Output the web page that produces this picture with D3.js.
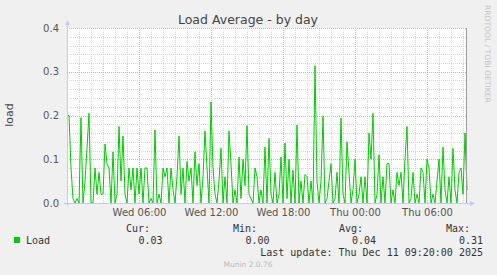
<!DOCTYPE html>
<html>
<head>
<meta charset="utf-8">
<script src="https://cdn.jsdelivr.net/npm/d3@7"></script>
<style>
  body { margin: 0; background: #f0f0f0; }
  svg { display: block; font-family: "DejaVu Sans", sans-serif; }
  .mono { font-family: "DejaVu Sans Mono", monospace; font-size: 10px; fill: #333; }
</style>
</head>
<body>
<div id="chart"></div>
<script>
// load average, one sample every 10 minutes from Wed 00:00 to Thu 09:20
const loadValues = [
  0.20, 0.08, 0.01, 0.00, 0.01, 0.00, 0.195, 0.00, 0.05, 0.125,
  0.205, 0.00, 0.00, 0.08, 0.02, 0.07, 0.02, 0.02, 0.135, 0.09,
  0.08, 0.00, 0.117, 0.00, 0.02, 0.175, 0.05, 0.153, 0.02, 0.00,
  0.08, 0.03, 0.08, 0.00, 0.08, 0.02, 0.08, 0.00, 0.08, 0.08,
  0.00, 0.01, 0.00, 0.167, 0.00, 0.02, 0.00, 0.08, 0.06, 0.08,
  0.00, 0.08, 0.03, 0.00, 0.06, 0.153, 0.02, 0.08, 0.00, 0.095,
  0.05, 0.08, 0.00, 0.117, 0.04, 0.09, 0.00, 0.06, 0.165, 0.08,
  0.00, 0.231, 0.08, 0.02, 0.00, 0.05, 0.125, 0.00, 0.06, 0.00,
  0.165, 0.09, 0.00, 0.03, 0.00, 0.105, 0.01, 0.10, 0.04, 0.177,
  0.02, 0.01, 0.00, 0.08, 0.06, 0.00, 0.03, 0.00, 0.128, 0.00,
  0.148, 0.02, 0.00, 0.07, 0.00, 0.02, 0.105, 0.00, 0.137, 0.01,
  0.10, 0.00, 0.075, 0.00, 0.178, 0.00, 0.05, 0.00, 0.065, 0.06,
  0.00, 0.05, 0.00, 0.314, 0.05, 0.00, 0.05, 0.198, 0.00, 0.01,
  0.05, 0.09, 0.00, 0.01, 0.07, 0.00, 0.194, 0.02, 0.00, 0.14,
  0.07, 0.00, 0.03, 0.10, 0.00, 0.02, 0.06, 0.00, 0.06, 0.00,
  0.16, 0.10, 0.205, 0.00, 0.02, 0.11, 0.00, 0.06, 0.00, 0.09,
  0.09, 0.00, 0.03, 0.00, 0.07, 0.04, 0.07, 0.00, 0.10, 0.175,
  0.00, 0.01, 0.07, 0.00, 0.02, 0.00, 0.08, 0.07, 0.00, 0.10,
  0.08, 0.00, 0.02, 0.00, 0.05, 0.10, 0.00, 0.128, 0.03, 0.00,
  0.06, 0.00, 0.125, 0.03, 0.00, 0.07, 0.08, 0.02, 0.16, 0.03
];
const yTicks = [0, 0.1, 0.2, 0.3, 0.4];
const legendHeads = ['Cur:', 'Min:', 'Avg:', 'Max:'];
const legendVals = ['0.03', '0.00', '0.04', '0.31'];

const W = 497, H = 275;
const pL = 67, pR = 467, pT = 28, pB = 203;

const start = new Date(2025, 11, 10, 0, 0);
const end = new Date(2025, 11, 11, 9, 20);
const step = 10 * 60 * 1000;
const series = loadValues.map((v, i) => ({ t: new Date(+start + (i + 1) * step), v }));

const x = d3.scaleTime().domain([start, end]).range([pL, pR]);
const y = d3.scaleLinear().domain([0, 0.4]).range([pB, pT]);

const svg = d3.select('#chart').append('svg').attr('width', W).attr('height', H);

svg.append('rect').attr('x', pL).attr('y', pT)
  .attr('width', pR - pL).attr('height', pB - pT).attr('fill', '#fff');

// grid
const hours = d3.timeHour.range(d3.timeHour.ceil(start), end);
const g = svg.append('g').attr('shape-rendering', 'crispEdges');
g.selectAll('.vg').data(hours).enter().append('line')
  .attr('x1', d => Math.round(x(d)) + 0.5).attr('x2', d => Math.round(x(d)) + 0.5)
  .attr('y1', pT).attr('y2', pB)
  .attr('stroke', d => d.getHours() % 6 === 0 ? '#e8a8a8' : '#d6d6d6')
  .attr('stroke-dasharray', '1,1');
const yMinor = d3.range(1, 21).map(i => i * 0.02);
g.selectAll('.hg').data(yMinor).enter().append('line')
  .attr('x1', pL).attr('x2', pR)
  .attr('y1', d => Math.round(y(d)) + 0.5).attr('y2', d => Math.round(y(d)) + 0.5)
  .attr('stroke', (d, i) => (i + 1) % 5 === 0 ? '#e8a8a8' : '#d6d6d6')
  .attr('stroke-dasharray', '1,1');

// line
const line = d3.line().x(d => x(d.t)).y(d => y(d.v));
svg.append('path').datum([{ t: start, v: loadValues[0] }].concat(series))
  .attr('d', line).attr('fill', 'none').attr('stroke', '#00cc00').attr('stroke-width', 1);

// axes lines
const ax = svg.append('g').attr('shape-rendering', 'crispEdges');
ax.append('line').attr('x1', pL + 0.5).attr('x2', pL + 0.5).attr('y1', pB + 3).attr('y2', pT - 4)
  .attr('stroke', '#c8c8f0');
ax.append('line').attr('x1', pL - 3).attr('x2', pR + 4).attr('y1', pB + 0.5).attr('y2', pB + 0.5)
  .attr('stroke', '#c8c8f0');
ax.append('line').attr('x1', pR - 0.5).attr('x2', pR - 0.5).attr('y1', pT).attr('y2', pB)
  .attr('stroke', '#999');
svg.append('path').attr('d', `M${pL - 2},${pT - 3}L${pL + 0.5},${pT - 8}L${pL + 3},${pT - 3}Z`).attr('fill', '#c8c8f0');
svg.append('path').attr('d', `M${pR + 3},${pB - 2}L${pR + 8},${pB + 0.5}L${pR + 3},${pB + 3}Z`).attr('fill', '#c8c8f0');

// axis labels
const yAxis = d3.axisLeft(y).tickValues(yTicks).tickFormat(d3.format('.1f')).tickSize(0).tickPadding(8);
const ya = svg.append('g').attr('transform', `translate(${pL},0)`).call(yAxis);
ya.select('.domain').remove();
ya.selectAll('text').attr('font-size', 10).attr('fill', '#555').attr('font-family', 'DejaVu Sans');

const xTickVals = d3.timeHour.every(6).range(d3.timeHour.offset(start, 1), end);
const xAxis = d3.axisBottom(x).tickValues(xTickVals).tickFormat(d3.timeFormat('%a %H:%M')).tickSize(0).tickPadding(6);
const xa = svg.append('g').attr('transform', `translate(0,${pB})`).call(xAxis);
xa.select('.domain').remove();
xa.selectAll('text').attr('font-size', 10).attr('fill', '#555').attr('font-family', 'DejaVu Sans');

// titles
svg.append('text').attr('x', 248).attr('y', 24).attr('text-anchor', 'middle')
  .attr('font-size', 12.5).attr('fill', '#444').text('Load Average - by day');
svg.append('text').attr('transform', 'translate(13,115) rotate(-90)').attr('text-anchor', 'middle')
  .attr('font-size', 11).attr('fill', '#444').text('load');
svg.append('text').attr('transform', 'translate(485,5) rotate(90)').attr('text-anchor', 'start')
  .attr('font-size', 7.6).attr('fill', '#c4c4c4').text('RRDTOOL / TOBI OETIKER');

// legend
svg.append('rect').attr('x', 14).attr('y', 237).attr('width', 6).attr('height', 6).attr('fill', '#00cc00');
svg.append('text').attr('class', 'mono').attr('x', 26).attr('y', 244).text('Load');
const headX = [150, 257, 363, 470];
const valX = [162.5, 269.5, 376, 483];
svg.selectAll('.lh').data(legendHeads).enter().append('text').attr('class', 'mono')
  .attr('x', (d, i) => headX[i]).attr('y', 232).attr('text-anchor', 'end').text(d => d);
svg.selectAll('.lv').data(legendVals).enter().append('text').attr('class', 'mono')
  .attr('x', (d, i) => valX[i]).attr('y', 244).attr('text-anchor', 'end').text(d => d);
svg.append('text').attr('class', 'mono').attr('x', 483).attr('y', 256).attr('text-anchor', 'end')
  .text('Last update: Thu Dec 11 09:20:00 2025');
svg.append('text').attr('x', 248).attr('y', 267).attr('text-anchor', 'middle')
  .attr('font-size', 7.5).attr('fill', '#bbb').text('Munin 2.0.76');
</script>
</body>
</html>
